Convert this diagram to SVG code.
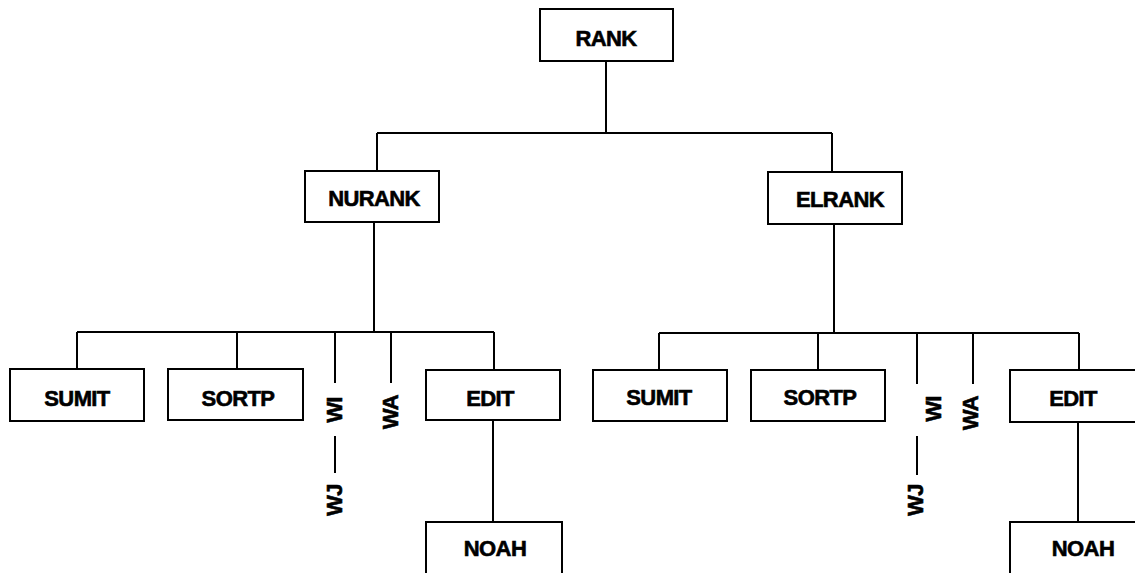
<svg xmlns="http://www.w3.org/2000/svg" width="1135" height="573" viewBox="0 0 1135 573">
<style>
.box{fill:#fff;stroke:#000;stroke-width:2}
.lbl{font-family:"Liberation Sans",Arial,sans-serif;font-weight:bold;font-size:22px;fill:#000;stroke:#000;stroke-width:0.6;text-anchor:middle;letter-spacing:-0.6px}
.ln{stroke:#000;stroke-width:2;fill:none}
</style>
<rect width="1135" height="573" fill="#fff"/>
<g id="connectors">
<path class="ln" d="M606 61V133M377 133H832M377 133V171M832 133V172"/>
<path class="ln" d="M374 222V332M77 332H494M77 332V369M237 332V369M335 332V383M391 332V383M494 332V370M335 436V473M493 420V522"/>
<path class="ln" d="M834 224V333M659 333H1079M659 333V370M818 333V370M917 333V384M973 333V384M1079 333V370M917 436V475M1078 421V522"/>
</g>
<g id="rank"><rect class="box" x="540" y="9" width="133" height="52"/><text class="lbl" x="606" y="46">RANK</text></g>
<g id="nurank"><rect class="box" x="305" y="171" width="134" height="51"/><text class="lbl" x="374" y="206">NURANK</text></g>
<g id="elrank"><rect class="box" x="768" y="172" width="134" height="52"/><text class="lbl" x="840" y="207">ELRANK</text></g>
<g id="sumit-l"><rect class="box" x="10" y="369" width="134" height="52"/><text class="lbl" x="77" y="406">SUMIT</text></g>
<g id="sortp-l"><rect class="box" x="168" y="369" width="135" height="51"/><text class="lbl" x="238" y="406">SORTP</text></g>
<g id="wi-l"><text class="lbl" transform="translate(342 410) rotate(-90)">WI</text></g>
<g id="wa-l"><text class="lbl" transform="translate(398 412) rotate(-90)">WA</text></g>
<g id="wj-l"><text class="lbl" transform="translate(342 500) rotate(-90)">WJ</text></g>
<g id="edit-l"><rect class="box" x="426" y="370" width="134" height="50"/><text class="lbl" x="490" y="406">EDIT</text></g>
<g id="noah-l"><rect class="box" x="426" y="522" width="136" height="60"/><text class="lbl" x="495" y="556">NOAH</text></g>
<g id="sumit-r"><rect class="box" x="593" y="370" width="134" height="51"/><text class="lbl" x="659" y="405">SUMIT</text></g>
<g id="sortp-r"><rect class="box" x="751" y="370" width="134" height="51"/><text class="lbl" x="820" y="405">SORTP</text></g>
<g id="wi-r"><text class="lbl" transform="translate(941 409) rotate(-90)">WI</text></g>
<g id="wa-r"><text class="lbl" transform="translate(978 413) rotate(-90)">WA</text></g>
<g id="wj-r"><text class="lbl" transform="translate(923 500) rotate(-90)">WJ</text></g>
<g id="edit-r"><rect class="box" x="1010" y="370" width="134" height="52"/><text class="lbl" x="1073" y="406">EDIT</text></g>
<g id="noah-r"><rect class="box" x="1010" y="522" width="134" height="60"/><text class="lbl" x="1083" y="556">NOAH</text></g>
</svg>
